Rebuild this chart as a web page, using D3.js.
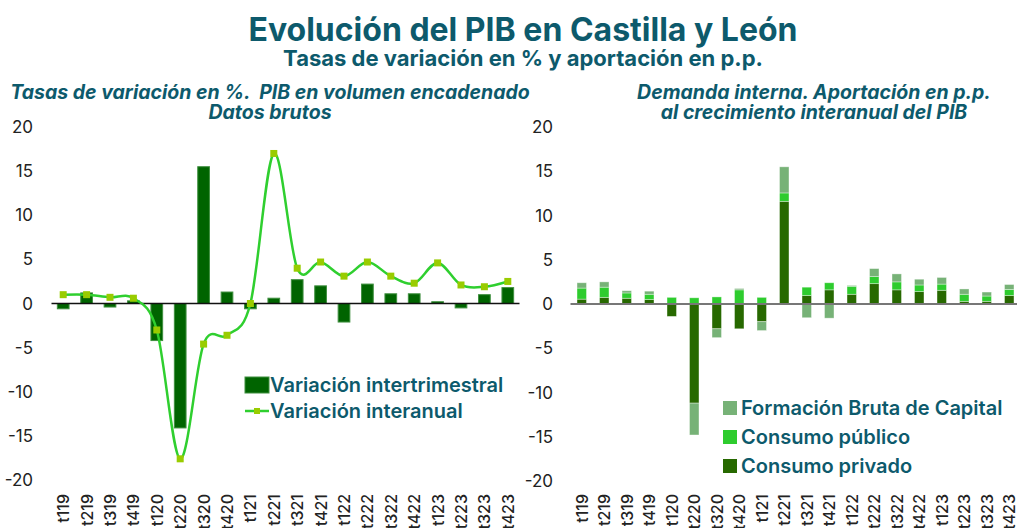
<!DOCTYPE html>
<html>
<head>
<meta charset="utf-8">
<script src="https://cdn.jsdelivr.net/npm/d3@7"></script>
<style>
  body { margin: 0; background: #fff; }
  svg { display: block; font-family: "Inter", "Noto Sans", sans-serif; }
  text { white-space: pre; }
</style>
</head>
<body>
<svg id="chart" width="1017" height="528"></svg>
<script>
// small stand-in for d3-selection-multi
d3.selection.prototype.attrs = function (o) {
  for (let k in o) this.attr(k, o[k])
  return this
}

// quarters
let quarters = ["t119","t219","t319","t419","t120","t220","t320","t420","t121","t221",
                "t321","t421","t122","t222","t322","t422","t123","t223","t323","t423"]

// left chart: PIB, tasas de variacion
let interTrim = [-0.6, 1.2, -0.4, 0.3, -4.2, -14.1, 15.5, 1.3, -0.6, 0.6,
                 2.7, 2.0, -2.1, 2.2, 1.1, 1.1, 0.2, -0.5, 1.0, 1.8]
let interAnual = [1.0, 1.0, 0.7, 0.6, -3.0, -17.6, -4.6, -3.6, 0.0, 17.0,
                  4.0, 4.7, 3.1, 4.7, 3.1, 2.3, 4.6, 2.1, 1.9, 2.5]

// right chart: aportacion demanda interna (p.p.)
let consPrivado = [0.55, 0.75, 0.65, 0.5, -1.4, -11.2, -2.8, -2.8, -2.0, 11.6,
                   0.95, 1.6, 1.1, 2.3, 1.6, 1.4, 1.55, 0.3, 0.3, 0.95]
let consPublico = [1.25, 1.15, 0.6, 0.6, 0.75, 0.7, 0.8, 1.6, 0.75, 0.95,
                   0.95, 0.8, 0.9, 0.8, 0.9, 0.75, 0.7, 0.8, 0.6, 0.7]
let formBruta = [0.6, 0.6, 0.25, 0.35, 0.0, -3.6, -1.0, 0.15, -1.0, 2.95,
                 -1.55, -1.6, 0.1, 0.9, 0.9, 0.65, 0.75, 0.6, 0.45, 0.55]

let yTicks = [20, 15, 10, 5, 0, -5, -10, -15, -20]

let teal = "#0d5a6c"
let svg = d3.select("#chart")

// titles
svg.append("text").attrs({x: 523, y: 41, "text-anchor": "middle", fill: teal,
  "font-size": 32, "font-weight": 700}).text("Evolución del PIB en Castilla y León")
svg.append("text").attrs({x: 523, y: 66, "text-anchor": "middle", fill: teal,
  "font-size": 22, "font-weight": 700}).text("Tasas de variación en % y aportación en p.p.")

let sub = (x, y, t) => svg.append("text").attrs({x: x, y: y, "text-anchor": "middle", fill: teal,
  "font-size": 19.5, "font-weight": 700, "font-style": "italic"}).text(t)
sub(270, 99, "Tasas de variación en %.  PIB en volumen encadenado")
sub(270, 119, "Datos brutos")
sub(814, 99, "Demanda interna. Aportación en p.p.")
sub(814, 119, "al crecimiento interanual del PIB")

function drawAxes(x, y, labelX, zeroColor, zeroWidth, zeroEnd) {
  svg.append("g").selectAll("text").data(yTicks).enter().append("text")
    .attrs({x: labelX, y: d => y(d) + 6, "text-anchor": "end", "font-size": 17, fill: "#222"})
    .text(d => d)
  svg.append("line").attrs({x1: x.range()[0], x2: zeroEnd, y1: y(0), y2: y(0),
    stroke: zeroColor, "stroke-width": zeroWidth})
  svg.append("g").selectAll("text").data(quarters).enter().append("text")
    .attr("transform", d => "translate(" + (x(d) + x.bandwidth() / 2 + 6) + ",494) rotate(-90)")
    .attrs({"text-anchor": "end", "font-size": 16, "font-weight": 500, fill: "#222"})
    .text(d => d)
}

// ---- left chart
let xL = d3.scaleBand().domain(quarters).range([51.5, 519.5])
let yL = d3.scaleLinear().domain([-20, 20]).range([480, 127])

svg.append("g").selectAll("rect").data(interTrim).enter().append("rect")
  .attrs({
    x: (d, i) => xL(quarters[i]) + xL.bandwidth() * 0.25,
    width: xL.bandwidth() * 0.5,
    y: d => yL(Math.max(0, d)),
    height: d => Math.abs(yL(d) - yL(0)),
    fill: "#006400", stroke: "#3f8f3f", "stroke-width": 1
  })

drawAxes(xL, yL, 33, "#111", 1.5, 519.5)

let line = d3.line()
  .x((d, i) => xL(quarters[i]) + xL.bandwidth() / 2)
  .y(d => yL(d))
  .curve(d3.curveCardinal.tension(0))
svg.append("path").datum(interAnual).attrs({d: line, fill: "none", stroke: "#2fcf2f", "stroke-width": 2.5})
svg.append("g").selectAll("rect").data(interAnual).enter().append("rect")
  .attrs({
    x: (d, i) => xL(quarters[i]) + xL.bandwidth() / 2 - 3.5,
    y: d => yL(d) - 3.5, width: 7, height: 7, fill: "#99cc00"
  })

// legend left
svg.append("rect").attrs({x: 245, y: 377, width: 24, height: 16, fill: "#006400", stroke: "#3f8f3f"})
svg.append("line").attrs({x1: 245, x2: 269, y1: 411, y2: 411, stroke: "#2fcf2f", "stroke-width": 2.5})
svg.append("rect").attrs({x: 254, y: 408, width: 6, height: 6, fill: "#99cc00"})
svg.append("text").attrs({x: 270, y: 392, "font-size": 20, "font-weight": 600, fill: teal}).text("Variación intertrimestral")
svg.append("text").attrs({x: 270, y: 418, "font-size": 20, "font-weight": 600, fill: teal}).text("Variación interanual")

// ---- right chart
let xR = d3.scaleBand().domain(quarters).range([570.5, 1020.5])
let yR = d3.scaleLinear().domain([-20, 20]).range([481, 127])

let series = [
  {name: "Consumo privado", values: consPrivado, color: "#276900"},
  {name: "Consumo público", values: consPublico, color: "#2ecc2e"},
  {name: "Formación Bruta de Capital", values: formBruta, color: "#77b277"}
]
let posBase = quarters.map(_ => 0), negBase = quarters.map(_ => 0)
let segs = []
series.forEach(s => {
  s.values.forEach((v, i) => {
    let b = v >= 0 ? posBase[i] : negBase[i]
    segs.push({q: quarters[i], y0: b, y1: b + v, color: s.color})
    if (v >= 0) posBase[i] += v; else negBase[i] += v
  })
})
svg.append("g").selectAll("rect").data(segs).enter().append("rect")
  .attrs({
    x: d => xR(d.q) + xR.bandwidth() * 0.29,
    width: xR.bandwidth() * 0.42,
    y: d => yR(Math.max(d.y0, d.y1)),
    height: d => Math.abs(yR(d.y1) - yR(d.y0)),
    fill: d => d.color, stroke: "#ffffff", "stroke-opacity": 0.45, "stroke-width": 0.8
  })

drawAxes(xR, yR, 553, "#777", 2, 1017)

// legend right
series.slice().reverse().forEach((s, i) => {
  svg.append("rect").attrs({x: 723, y: 401 + i * 29, width: 14, height: 14, fill: s.color})
  svg.append("text").attrs({x: 741, y: 415 + i * 29, "font-size": 20, "font-weight": 600, fill: teal}).text(s.name)
})
</script>
</body>
</html>
